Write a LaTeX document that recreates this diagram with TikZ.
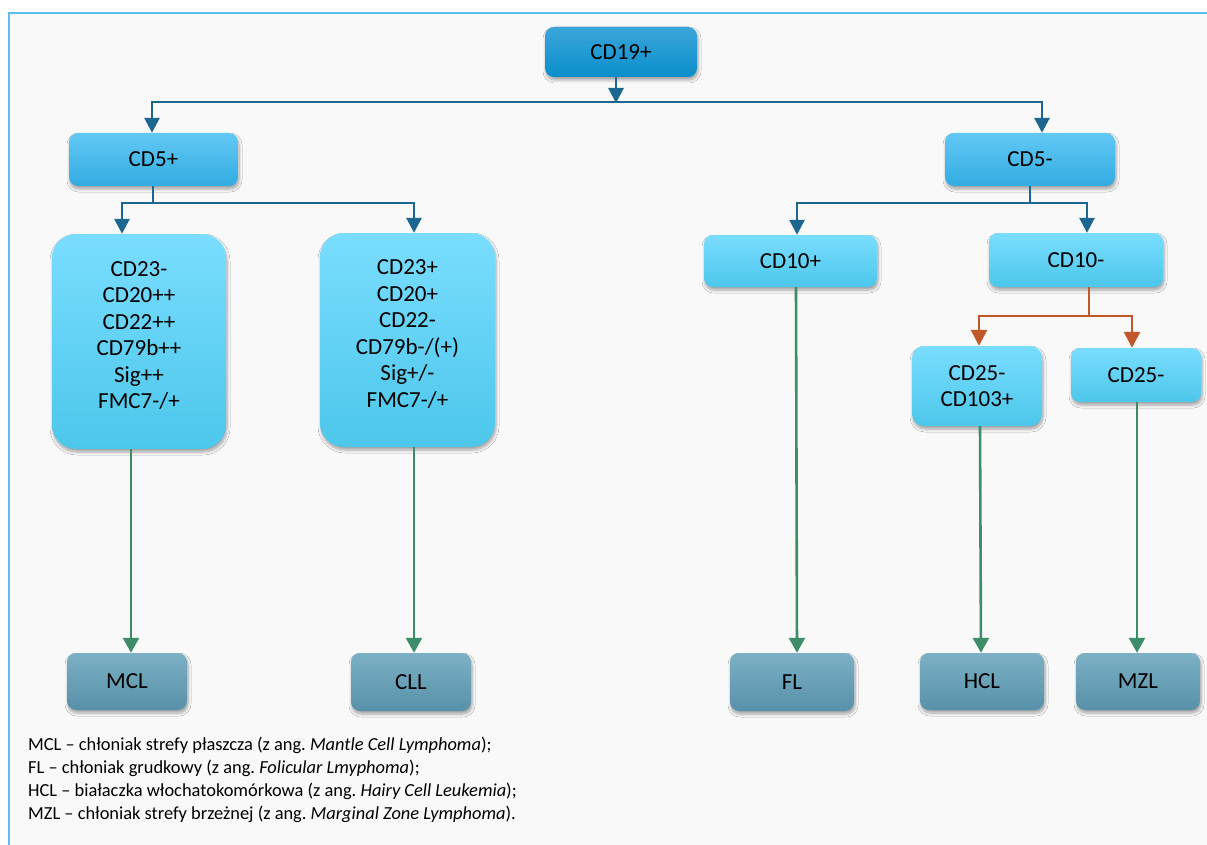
\documentclass[tikz,border=0pt]{standalone}
\usepackage{fontspec}
\setmainfont{Carlito}
\usetikzlibrary{arrows.meta,shadows.blur}
\definecolor{frameblue}{HTML}{5BC0EB}
\definecolor{bgray}{HTML}{F9F9F9}
\definecolor{linkblue}{HTML}{1B6790}
\definecolor{linkorange}{HTML}{C0582A}
\definecolor{linkgreen}{HTML}{3E8C68}
\definecolor{rtop}{HTML}{3CA5DA}
\definecolor{rbot}{HTML}{0A8FCB}
\definecolor{midtop}{HTML}{62C8F4}
\definecolor{midbot}{HTML}{33ACE2}
\definecolor{lighttop}{HTML}{7ADDFF}
\definecolor{lightbot}{HTML}{4CC7EA}
\definecolor{endtop}{HTML}{7CB0C4}
\definecolor{endbot}{HTML}{5791A9}
\newcommand{\boxlines}[1]{\raisebox{4.5pt}[\height][\depth]{\begin{tabular}{@{}c@{}}#1\end{tabular}}}
\tikzset{
  base/.style={rounded corners=9pt, align=center, inner sep=0pt,
    font=\fontsize{23}{26.5}\selectfont,
    blur shadow={shadow xshift=1pt, shadow yshift=-3pt, shadow blur radius=3pt, shadow blur steps=6, shadow opacity=35}},
  topbox/.style={base, top color=rtop, bottom color=rbot},
  midbox/.style={base, top color=midtop, bottom color=midbot},
  lightbox/.style={base, top color=lighttop, bottom color=lightbot},
  bigbox/.style={lightbox, rounded corners=24pt},
  endbox/.style={base, top color=endtop, bottom color=endbot},
  bluelink/.style={draw=linkblue, line width=2.8pt, -{Triangle[width=15pt,length=15pt]}},
  bluelink2/.style={draw=linkblue, line width=2.8pt, {Triangle[width=15pt,length=15pt]}-{Triangle[width=15pt,length=15pt]}},
  blueline/.style={draw=linkblue, line width=2.8pt},
  orangeline/.style={draw=linkorange, line width=2.8pt},
  orangelink2/.style={draw=linkorange, line width=2.8pt, {Triangle[width=16pt,length=16pt]}-{Triangle[width=16pt,length=16pt]}},
  greenlink/.style={draw=linkgreen, line width=2.6pt, -{Triangle[width=16pt,length=15pt]}},
}
\begin{document}
\frenchspacing
\begin{tikzpicture}[x=1pt,y=-1pt]
\useasboundingbox (0,0) rectangle (1207,845);
\fill[white] (0,0) rectangle (1207,845);
\fill[bgray] (9,13) rectangle (1207,845);
\draw[frameblue, line width=2pt] (9,845) -- (9,13) -- (1207,13);

% nodes
\node[topbox, minimum width=152pt, minimum height=50pt] (cd19) at (621,52) {CD19+};
\node[midbox, minimum width=169pt, minimum height=53pt] (cd5p) at (153.5,159.5) {CD5+};
\node[midbox, minimum width=170pt, minimum height=53pt] (cd5m) at (1030,159.5) {CD5-};
\node[bigbox, minimum width=174pt, minimum height=215pt] (bigL) at (139,341.5) {\boxlines{CD23-\\CD20++\\CD22++\\CD79b++\\Sig++\\FMC7-/+}};
\node[bigbox, minimum width=175pt, minimum height=214pt] (bigR) at (407.5,340) {\boxlines{CD23+\\CD20+\\CD22-\\CD79b-/(+)\\Sig+/-\\FMC7-/+}};
\node[lightbox, minimum width=173pt, minimum height=52pt] (cd10p) at (790.5,261) {CD10+};
\node[lightbox, minimum width=174pt, minimum height=54pt] (cd10m) at (1076,260) {CD10-};
\node[lightbox, minimum width=130pt, minimum height=80pt, rounded corners=12pt] (cd25a) at (977,386) {CD25-\\CD103+};
\node[lightbox, minimum width=130pt, minimum height=54pt] (cd25b) at (1136,375) {CD25-};
\node[endbox, minimum width=120pt, minimum height=57pt] (mcl) at (127,681.5) {MCL};
\node[endbox, minimum width=120pt, minimum height=58pt] (cll) at (411,682) {CLL};
\node[endbox, minimum width=124pt, minimum height=58pt] (fl) at (792,682) {FL};
\node[endbox, minimum width=124pt, minimum height=57pt] (hcl) at (982,681.5) {HCL};
\node[endbox, minimum width=124pt, minimum height=57pt] (mzl) at (1138,681.5) {MZL};

% junction coordinates
\coordinate (j1) at (616,101);
\coordinate (j1l) at (152,102);
\coordinate (j1r) at (1042,102);
\coordinate (j2) at (153,203);
\coordinate (j2l) at (122,203);
\coordinate (j2r) at (414,203);
\coordinate (j3) at (1030,203);
\coordinate (j3l) at (797,203);
\coordinate (j3r) at (1087,203);
\coordinate (j4) at (1089,316);
\coordinate (j4l) at (979,316);
\coordinate (j4r) at (1132,316);

% blue connectors
\draw[bluelink] (cd19.south -| j1) -- ([yshift=-2pt]j1);
\draw[bluelink2] (j1l |- cd5p.north) -- (j1l) -- (j1r) -- (j1r |- cd5m.north);
\draw[blueline] (cd5p.south -| j2) -- (j2);
\draw[bluelink2] (j2l |- bigL.north) -- (j2l) -- (j2r) -- (j2r |- bigR.north);
\draw[blueline] (cd5m.south -| j3) -- (j3);
\draw[bluelink2] (j3l |- cd10p.north) -- (j3l) -- (j3r) -- (j3r |- cd10m.north);

% orange connectors
\draw[orangeline] (cd10m.south -| j4) -- (j4);
\draw[orangelink2] (j4l |- cd25a.north) -- (j4l) -- (j4r) -- (j4r |- cd25b.north);

% green connectors
\draw[greenlink] ([xshift=-8pt]bigL.south) -- ([xshift=4pt]mcl.north);
\draw[greenlink] ([xshift=6.5pt]bigR.south) -- ([xshift=3pt]cll.north);
\draw[greenlink] ([xshift=5.5pt]cd10p.south) -- ([xshift=5pt]fl.north);
\draw[greenlink] ([xshift=3pt]cd25a.south) -- ([xshift=-1pt]hcl.north);
\draw[greenlink] ([xshift=1pt]cd25b.south) -- ([xshift=-1pt]mzl.north);

% legend
\node[anchor=north west, align=left, inner sep=0pt, font=\fontsize{18.4}{23}\selectfont] (legend) at (28,737)
{MCL -- chłoniak strefy płaszcza (z ang. \textit{Mantle Cell Lymphoma});\\
FL -- chłoniak grudkowy (z ang. \textit{Folicular Lmyphoma});\\
HCL -- białaczka włochatokomórkowa (z ang. \textit{Hairy Cell Leukemia});\\
MZL -- chłoniak strefy brzeżnej (z ang. \textit{Marginal Zone Lymphoma}).};
\end{tikzpicture}
\end{document}
